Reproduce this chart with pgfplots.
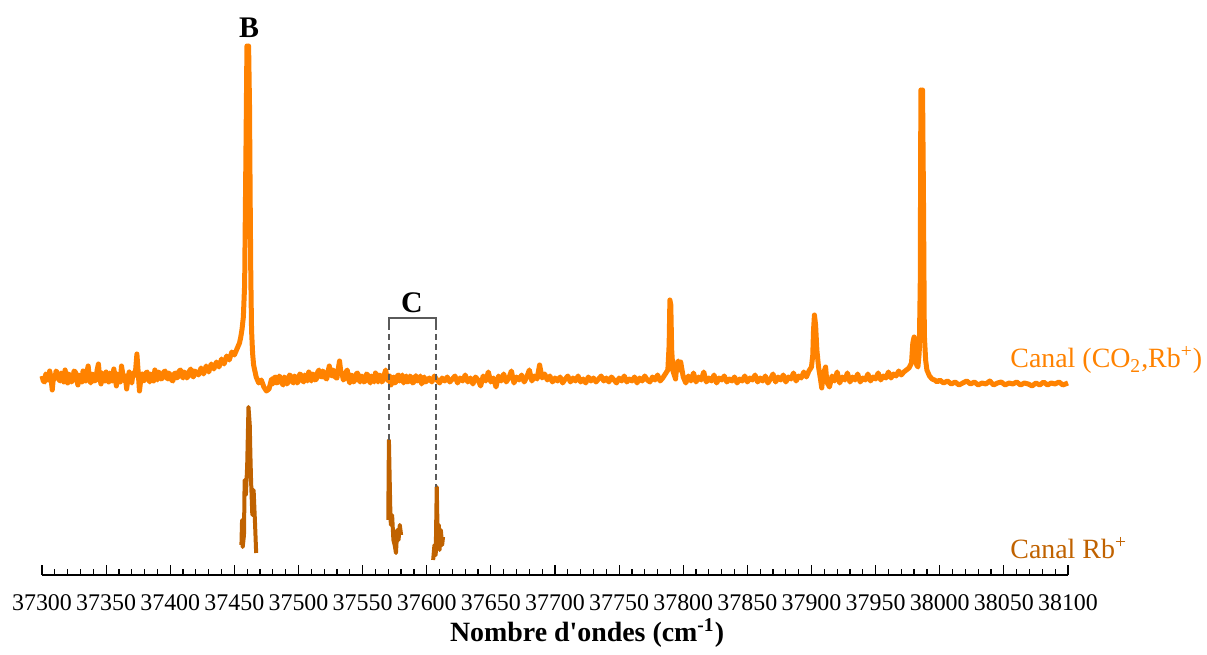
\documentclass[border=0pt]{standalone}
\usepackage{pgfplots}
\pgfplotsset{compat=1.18}
\usepackage{fontspec}
\setmainfont{Liberation Serif}
\newfontfamily\xlfont{Liberation Serif}
\definecolor{orng}{RGB}{255,130,0}
\definecolor{dorng}{RGB}{192,98,0}
\definecolor{brk}{RGB}{90,90,90}
\pgfplotstableread{
x y
37300 199
37301 194
37302 193
37303 201
37304 200
37305 195
37306 204
37307 197
37308 185
37309 199
37310 196
37311 204
37312 202
37313 196
37314 194
37315 202
37316 199
37317 193
37318 205
37319 198
37320 192
37321 201
37322 199
37323 193
37324 195
37325 204
37326 203
37327 196
37328 190
37329 200
37330 198
37331 193
37332 204
37333 199
37334 194
37335 203
37336 209
37337 196
37338 192
37339 201
37340 200
37341 194
37342 195
37343 205
37344 211
37345 197
37346 191
37347 202
37348 199
37349 194
37350 203
37351 198
37352 193
37353 202
37354 200
37355 194
37356 206
37357 199
37358 189
37359 201
37360 198
37361 193
37362 209
37363 201
37364 194
37365 199
37366 186
37367 196
37368 203
37369 195
37370 192
37371 202
37372 199
37373 205
37374 221
37375 203
37376 184
37377 195
37378 201
37379 194
37380 195
37381 202
37382 203
37383 197
37384 193
37385 201
37386 199
37387 194
37388 205
37389 199
37390 195
37391 203
37392 201
37393 196
37394 197
37395 203
37396 204
37397 198
37398 196
37399 202
37400 200
37401 195
37402 194
37403 201
37404 202
37405 197
37406 198
37407 204
37408 205
37409 199
37410 197
37411 203
37412 201
37413 197
37414 199
37415 204
37416 206
37417 200
37418 198
37419 204
37420 203
37422 200
37424 207
37426 201
37428 209
37430 203
37432 211
37434 206
37436 213
37438 208
37440 216
37442 211
37444 219
37446 215
37448 223
37450 220
37452 226
37454 232
37455 238
37456 246
37457 258
37458 290
37459 420
37459.8 529
37460.5 500
37461.1 529
37461.8 470
37462.3 380
37462.8 300
37463.4 245
37464.2 222
37465 210
37466 204
37467 198
37469 192
37471 195
37473 188
37475 184
37477 186
37479 196
37480 191
37481 197
37482 198
37483 192
37484 193
37485 199
37486 197
37487 192
37488 190
37489 198
37490 196
37491 191
37492 193
37493 200
37494 199
37495 194
37496 192
37497 199
37498 197
37499 192
37500 194
37501 201
37502 200
37503 195
37504 193
37505 200
37506 198
37507 194
37508 203
37509 197
37510 194
37511 201
37512 200
37513 195
37514 196
37515 203
37516 205
37517 199
37518 198
37519 204
37520 202
37521 197
37522 196
37523 203
37524 209
37525 201
37526 199
37527 205
37528 203
37529 197
37530 197
37531 206
37532 214
37533 203
37534 201
37535 195
37536 197
37537 203
37538 205
37539 196
37540 192
37541 200
37542 199
37543 193
37544 195
37545 201
37546 202
37547 196
37548 193
37549 199
37550 198
37551 193
37552 194
37553 201
37554 200
37555 195
37556 192
37557 199
37558 197
37559 193
37560 202
37561 197
37562 193
37563 200
37564 199
37565 193
37566 195
37567 201
37568 205
37569 197
37570 194
37571 199
37572 190
37573 196
37574 198
37575 192
37576 193
37577 199
37578 200
37579 194
37580 196
37581 200
37582 192
37583 197
37584 199
37585 193
37586 194
37587 199
37588 197
37589 192
37590 193
37591 199
37592 199
37593 194
37594 195
37595 199
37596 191
37597 196
37598 198
37599 193
37600 194
37602 197
37604 193
37606 199
37608 195
37610 192
37612 197
37614 194
37616 198
37618 193
37620 196
37622 199
37624 192
37626 197
37628 194
37630 200
37632 193
37634 197
37636 191
37638 198
37640 195
37642 189
37644 199
37646 194
37648 203
37650 193
37652 197
37654 188
37656 199
37658 194
37660 201
37662 193
37664 197
37666 204
37668 192
37670 198
37672 195
37674 200
37676 193
37678 198
37680 205
37682 194
37684 199
37686 196
37688 210
37690 197
37692 201
37694 195
37696 199
37698 193
37700 197
37702 194
37704 198
37706 192
37708 196
37710 199
37712 193
37714 197
37716 194
37718 199
37720 193
37722 196
37724 192
37726 198
37728 194
37730 197
37732 193
37734 196
37736 199
37738 194
37740 197
37742 193
37744 198
37746 195
37748 192
37750 197
37752 194
37754 199
37756 193
37758 196
37760 194
37762 198
37764 192
37766 197
37768 194
37770 199
37772 195
37774 193
37776 198
37778 195
37780 200
37782 194
37784 197
37786 201
37788 205
37789 230
37789.6 275
37790.3 270
37791 225
37792 204
37794 196
37795 210
37796 214
37797 205
37798 213
37800 198
37802 192
37804 199
37806 194
37808 202
37810 193
37812 198
37814 195
37816 203
37818 193
37820 197
37822 194
37824 200
37826 192
37828 197
37830 195
37832 199
37834 193
37836 196
37838 194
37840 198
37842 192
37844 196
37846 194
37848 199
37850 193
37852 197
37854 195
37856 200
37858 193
37860 197
37862 194
37864 199
37866 192
37868 196
37870 201
37872 193
37874 198
37876 195
37878 200
37880 193
37882 198
37884 196
37886 202
37888 194
37890 199
37892 197
37894 203
37896 198
37898 204
37900 208
37901 220
37901.6 245
37902.3 260
37903.2 250
37904.2 225
37905.5 208
37907 196
37908 187
37909 200
37911 208
37912 193
37914 188
37916 199
37918 194
37920 203
37922 192
37924 198
37926 195
37928 202
37930 193
37932 198
37934 195
37936 201
37938 193
37940 197
37942 195
37944 201
37946 194
37948 198
37950 196
37952 202
37954 195
37956 199
37958 197
37960 203
37962 197
37964 201
37966 199
37968 204
37970 200
37972 203
37974 205
37976 207
37978 212
37979 232
37980 238
37981 226
37982 210
37983 208
37984 222
37984.8 290
37985.3 485
37986 470
37986.6 485
37987.3 380
37988 240
37989 215
37990 205
37992 199
37994 196
37996 195
37998 193
38000 195
38003 192
38006 194
38009 191
38012 193
38015 190
38018 192
38021 194
38024 191
38027 193
38030 190
38033 192
38036 191
38039 194
38042 190
38045 192
38048 193
38051 190
38054 192
38057 191
38060 193
38063 190
38066 192
38069 191
38072 189
38075 192
38078 190
38081 193
38084 190
38087 192
38090 191
38093 193
38096 190
38100 192
}\coRb
\pgfplotstableread{
x y
37455.5 30
37456 55
37456.5 28
37457.5 40
37458 95
37459 80
37460 110
37461 168
37462 150
37462.5 120
37463 95
37464 60
37465 85
37466 55
37467 22
}\rbA
\pgfplotstableread{
x y
37570 55
37570.5 135
37571.5 70
37572 50
37573 60
37574 35
37575 30
37576 22
37577 45
37578 35
37579 50
37580 40
}\rbB
\pgfplotstableread{
x y
37605 15
37606 30
37607 20
37607.8 88
37608.5 40
37609.5 50
37610 25
37611 45
37612 30
37612.7 38
}\rbC
\begin{document}
\begin{tikzpicture}
\begin{axis}[
  scale only axis,
  width=513bp, height=267.5bp,
  xmin=37300, xmax=38100, ymin=0, ymax=535,
  clip=false,
  axis x line=bottom, axis y line=none,
  x axis line style={-, line width=0.8bp},
  xtick distance=50, minor x tick num=4,
  scaled x ticks=false,
  tick align=inside,
  major tick length=5bp, minor tick length=3bp,
  tick style={line width=0.6bp, black},
  xticklabel={\pgfmathprintnumber[fixed, precision=0, 1000 sep={}, assume math mode=true]{\tick}},
  xticklabel style={font=\fontsize{12}{14}\selectfont, yshift=-6.5bp},
]
\path (axis cs:37267.25,-70) rectangle (axis cs:38208.4,575);
\addplot[orng, line width=2.5bp, line join=round] table[x=x,y=y] {\coRb};
\addplot[dorng, line width=2bp, line join=round] table[x=x,y=y] {\rbA};
\addplot[dorng, line width=2bp, line join=round] table[x=x,y=y] {\rbB};
\addplot[dorng, line width=2bp, line join=round] table[x=x,y=y] {\rbC};
\draw[brk, line width=0.8bp] (axis cs:37570.6,251) -- (axis cs:37570.6,257) -- (axis cs:37607.3,257) -- (axis cs:37607.3,251);
\draw[brk, line width=0.8bp, dash pattern=on 3bp off 2bp] (axis cs:37570.6,251) -- (axis cs:37570.6,135);
\draw[brk, line width=0.8bp, dash pattern=on 3bp off 2bp] (axis cs:37607.3,251) -- (axis cs:37607.3,88);
\node[font=\fontsize{15}{17}\selectfont\bfseries] at (axis cs:37588.5,272) {C};
\node[font=\fontsize{15}{17}\selectfont\bfseries] at (axis cs:37461.4,547) {B};
\node[anchor=west, inner sep=0pt, text=orng, font=\fontsize{14}{16}\selectfont] at (axis cs:38054.8,215) {Canal (CO\textsubscript{2},Rb\textsuperscript{+})};
\node[anchor=west, inner sep=0pt, text=dorng, font=\fontsize{14}{16}\selectfont] at (axis cs:38054.8,27) {Canal Rb\textsuperscript{+}};
\node[font=\xlfont\fontsize{14}{16}\selectfont\bfseries] at (axis cs:37725,-58) {Nombre d'ondes (cm\textsuperscript{-1})};
\end{axis}
\end{tikzpicture}
\end{document}
